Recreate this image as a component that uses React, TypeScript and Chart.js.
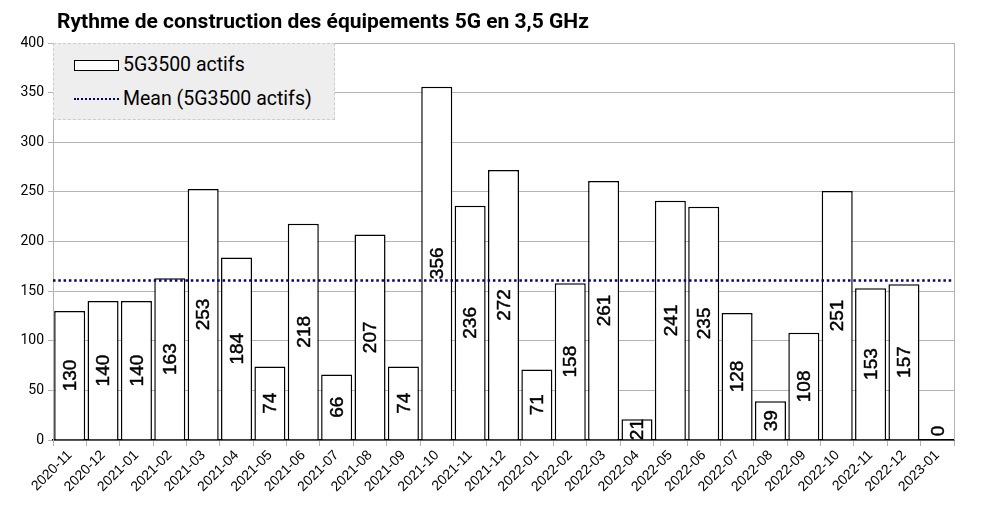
import React, { useEffect, useRef } from "react";
import { Chart, registerables } from "chart.js";

Chart.register(...registerables);

const TITLE = "Rythme de construction des équipements 5G en 3,5 GHz";
const SERIES_LABEL = "5G3500 actifs";
const MEAN_LABEL = "Mean (5G3500 actifs)";

const months = [
  "2020-11", "2020-12", "2021-01", "2021-02", "2021-03", "2021-04", "2021-05",
  "2021-06", "2021-07", "2021-08", "2021-09", "2021-10", "2021-11", "2021-12",
  "2022-01", "2022-02", "2022-03", "2022-04", "2022-05", "2022-06", "2022-07",
  "2022-08", "2022-09", "2022-10", "2022-11", "2022-12", "2023-01",
];

const actifs = [
  130, 140, 140, 163, 253, 184, 74, 218, 66, 207, 74, 356, 236, 272, 71, 158,
  261, 21, 241, 235, 128, 39, 108, 251, 153, 157, 0,
];

const meanValue = 160.6;

const Y_MIN = 0;
const Y_MAX = 400;
const Y_STEP = 50;

const barLabelPlugin = {
  id: "barLabels",
  afterDatasetsDraw(chart: any) {
    const meta = chart.getDatasetMeta(0);
    const yScale = chart.scales.y;
    const ctx = chart.ctx;
    const base = yScale.getPixelForValue(0);
    ctx.save();
    ctx.font = "19px 'Liberation Sans', Arial, sans-serif";
    ctx.fillStyle = "#000";
    ctx.strokeStyle = "#000";
    ctx.lineWidth = 0.45;
    ctx.textAlign = "center";
    ctx.textBaseline = "middle";
    meta.data.forEach((bar: any, i: number) => {
      const v = actifs[i];
      const top = yScale.getPixelForValue(v);
      let cy = (top + base) / 2;
      cy = Math.min(cy, base - 9);
      ctx.save();
      ctx.translate(bar.x, cy);
      ctx.rotate(-Math.PI / 2);
      ctx.fillText(String(v), 0, 1);
      ctx.strokeText(String(v), 0, 1);
      ctx.restore();
    });
    ctx.restore();
  },
};

const meanLinePlugin = {
  id: "meanLine",
  afterDatasetsDraw(chart: any) {
    const a = chart.chartArea;
    const y = chart.scales.y.getPixelForValue(meanValue);
    const ctx = chart.ctx;
    ctx.save();
    ctx.strokeStyle = "#000080";
    ctx.lineWidth = 2.5;
    ctx.setLineDash([2.5, 2.8]);
    ctx.beginPath();
    ctx.moveTo(a.left, y);
    ctx.lineTo(a.right, y);
    ctx.stroke();
    ctx.restore();
  },
};

const rightBorderPlugin = {
  id: "rightBorder",
  afterDraw(c: any) {
    const a = c.chartArea;
    const ctx = c.ctx;
    ctx.save();
    ctx.strokeStyle = "#b3b3b3";
    ctx.lineWidth = 1;
    ctx.beginPath();
    ctx.moveTo(a.right + 0.5, a.top);
    ctx.lineTo(a.right + 0.5, a.bottom);
    ctx.stroke();
    ctx.restore();
  },
};

export default function App() {
  const ref = useRef<HTMLCanvasElement>(null);

  useEffect(() => {
    if (!ref.current) return;
    const chart = new Chart(ref.current, {
      type: "bar",
      data: {
        labels: months,
        datasets: [
          {
            label: SERIES_LABEL,
            data: actifs,
            backgroundColor: "#ffffff",
            borderColor: "#000000",
            borderWidth: 1.5,
            barPercentage: 0.93,
            categoryPercentage: 1,
            grouped: false,
          } as any,
        ],
      },
      options: {
        animation: false,
        responsive: false,
        maintainAspectRatio: false,
        layout: { padding: { top: 43, right: 31, bottom: 0, left: 0 } },
        plugins: {
          legend: { display: false },
          title: { display: false },
          tooltip: { enabled: false },
        },
        scales: {
          x: {
            type: "category",
            offset: true,
            grid: {
              offset: true,
              drawOnChartArea: false,
              drawTicks: true,
              tickLength: 6,
              color: "#b3b3b3",
            },
            border: { display: true, color: "#000000", width: 1.5 },
            ticks: {
              minRotation: 45,
              maxRotation: 45,
              autoSkip: false,
              color: "#000",
              padding: 1,
              font: { family: "'Liberation Sans', Arial, sans-serif", size: 14 },
            },
            afterFit(scale: any) {
              scale.height = 67;
            },
          },
          y: {
            min: Y_MIN,
            max: Y_MAX,
            ticks: {
              stepSize: Y_STEP,
              color: "#000",
              padding: 4,
              font: { family: "Roboto, sans-serif", size: 14 },
            },
            grid: {
              color: "#b3b3b3",
              lineWidth: 1,
              drawTicks: true,
              tickLength: 5,
            },
            border: { display: true, color: "#b3b3b3", width: 1 },
            afterFit(scale: any) {
              scale.width = 53;
            },
          },
        },
      },
      plugins: [barLabelPlugin, meanLinePlugin, rightBorderPlugin],
    } as any);
    return () => chart.destroy();
  }, []);

  return (
    <div style={{ position: "fixed", left: 0, top: 0, width: 985, height: 507, background: "#fff" }}>
      <canvas ref={ref} width={985} height={507} style={{ position: "absolute", left: 0, top: 0 }} />
      <div
        style={{
          position: "absolute",
          left: 57,
          top: 7,
          fontFamily: "Roboto, sans-serif",
          fontWeight: 700,
          fontSize: 21,
          color: "#000",
          whiteSpace: "nowrap",
          lineHeight: "28px",
        }}
      >
        {TITLE}
      </div>
      <div
        style={{
          position: "absolute",
          left: 53,
          top: 43,
          width: 282,
          height: 77,
          background: "#eeeeee",
          border: "1px dashed #cccccc",
          boxSizing: "border-box",
          fontFamily: "Roboto, sans-serif",
          fontSize: 19.5,
          color: "#000",
        }}
      >
        <div style={{ position: "absolute", left: 20, top: 16, width: 45, height: 11, border: "1.5px solid #000", background: "#fff", boxSizing: "border-box" }} />
        <div style={{ position: "absolute", left: 69, top: 8, lineHeight: "26px", whiteSpace: "nowrap" }}>{SERIES_LABEL}</div>
        <div style={{ position: "absolute", left: 20, top: 54, width: 45, height: 0, borderTop: "2.5px dotted #000080" }} />
        <div style={{ position: "absolute", left: 69, top: 42, lineHeight: "26px", whiteSpace: "nowrap" }}>{MEAN_LABEL}</div>
      </div>
    </div>
  );
}
